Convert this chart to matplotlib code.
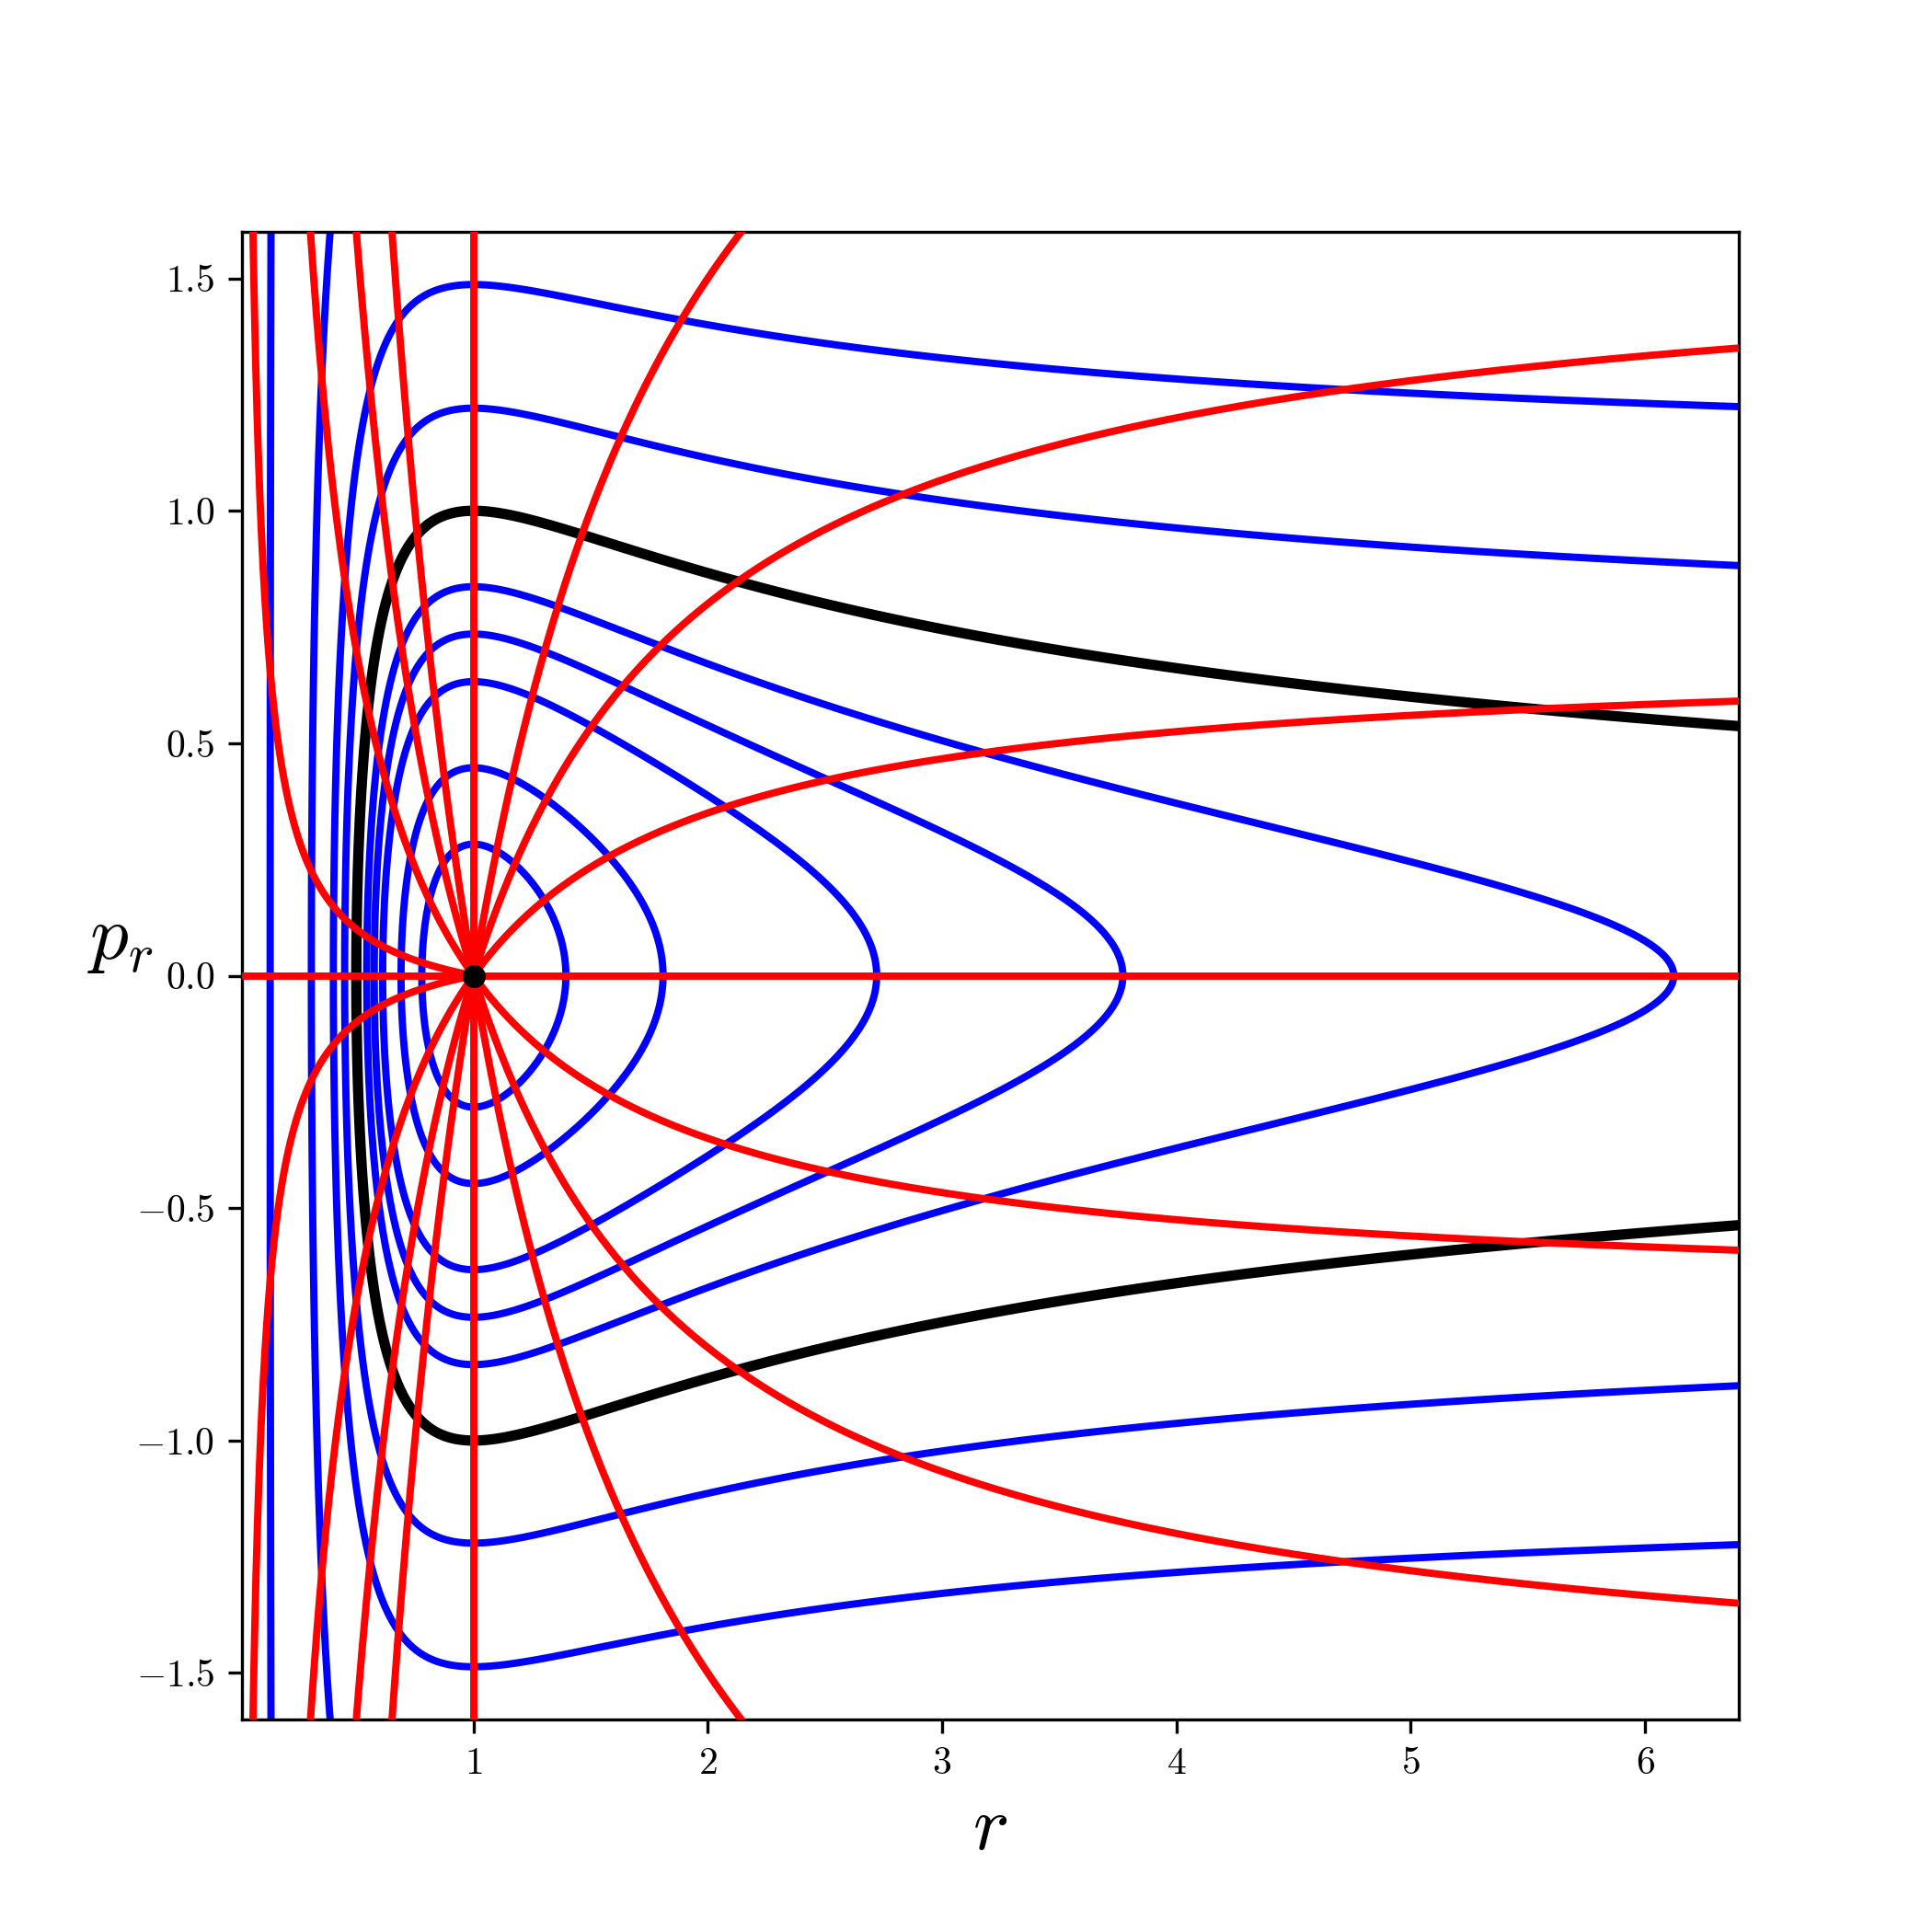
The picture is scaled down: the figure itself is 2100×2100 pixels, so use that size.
import numpy as np
import matplotlib
matplotlib.use('Agg')
import matplotlib.pyplot as plt

plt.rcParams['font.family'] = 'serif'
plt.rcParams['font.serif'] = ['cmr10', 'DejaVu Serif']
plt.rcParams['mathtext.fontset'] = 'cm'
plt.rcParams['axes.formatter.use_mathtext'] = True

# energy levels H = p^2/2 + 1/(2 r^2) - 1/r  (read from crossings at r = 1)
blue_levels = [-0.46, -0.40, -0.30, -0.23, -0.15, 0.245, 0.605, 2.02, 21.0]
black_level = 0.0

# red curves p = a (1/r - 1)
red_slopes_inner = [-3.0, -1.6, -0.7, -0.1, 0.1, 0.7, 1.6, 3.0]   # r < 1
red_slopes_outer = [-3.0, -1.6, -0.7, 0.7, 1.6, 3.0]              # r > 1

r_min, r_max = 0.01, 6.4
p_lim = 1.6

fig, ax = plt.subplots(figsize=(7, 7))

r = np.geomspace(r_min, r_max, 3000)
p = np.linspace(-p_lim, p_lim, 1500)
R, P = np.meshgrid(r, p)
H = P**2 / 2 + 1 / (2 * R**2) - 1 / R

ax.contour(R, P, H, levels=blue_levels, colors='blue', linewidths=1.9,
           linestyles='solid', zorder=2)
ax.contour(R, P, H, levels=[black_level], colors='black', linewidths=2.7,
           linestyles='solid', zorder=3)

r_in = np.geomspace(r_min, 1, 2000)
for a in red_slopes_inner:
    ax.plot(r_in, a * (1 / r_in - 1), color='red', lw=1.9, zorder=4)

r_out = np.linspace(1, r_max, 1000)
for a in red_slopes_outer:
    ax.plot(r_out, a * (1 / r_out - 1), color='red', lw=1.9, zorder=4)

ax.axhline(0, color='red', lw=1.9, zorder=4)
ax.axvline(1, color='red', lw=1.9, zorder=4)

ax.plot(1, 0, 'ko', ms=5, zorder=5)

ax.set_xlim(r_min, r_max)
ax.set_ylim(-p_lim, p_lim)
ax.set_xlabel(r'$r$', fontsize=20)
ax.set_ylabel(r'$p_r$', fontsize=20, rotation=0)

fig.savefig('out.png', dpi=300)
